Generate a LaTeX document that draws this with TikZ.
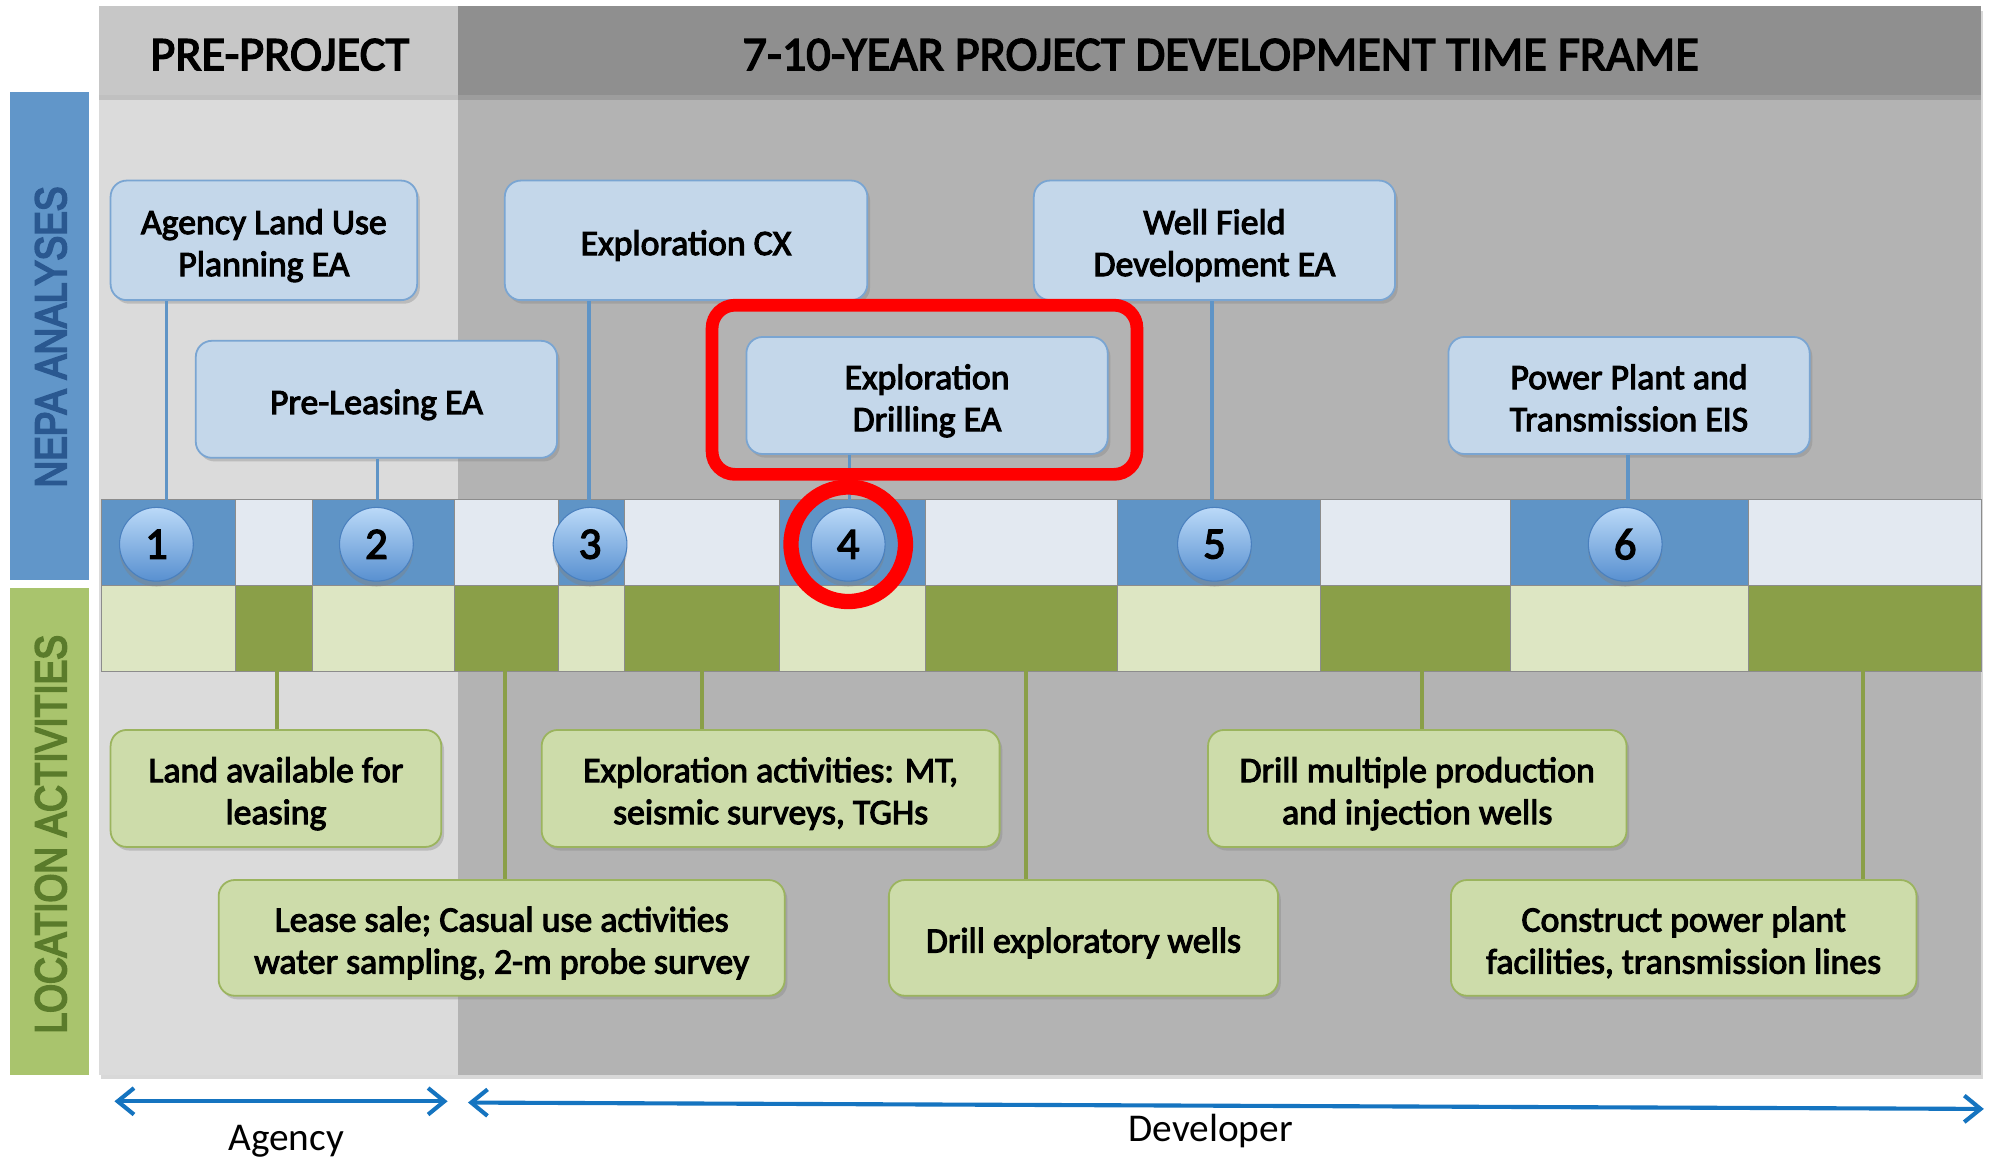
\documentclass[tikz,border=0pt]{standalone}
\usepackage{graphicx}
\usepackage{fontspec}
\setmainfont{Carlito}
\newfontfamily\boxfont{Carlito}[FakeBold=3]
\newfontfamily\sidefont{Liberation Sans}[FakeBold=5]
\usetikzlibrary{shadows,arrows.meta,calc}
\definecolor{hdrpre}{HTML}{C7C7C7}
\definecolor{hdrdev}{HTML}{8F8F8F}
\definecolor{bodypre}{HTML}{DBDBDB}
\definecolor{bodydev}{HTML}{B3B3B3}
\definecolor{nepabar}{HTML}{6196C9}
\definecolor{nepatext}{HTML}{2A5890}
\definecolor{locbar}{HTML}{A9C46D}
\definecolor{loctext}{HTML}{5A7B2B}
\definecolor{tlblue}{HTML}{5F94C6}
\definecolor{tllight}{HTML}{E3E9F1}
\definecolor{gdark}{HTML}{8A9F48}
\definecolor{glight}{HTML}{DDE6C3}
\definecolor{boxblue}{HTML}{C4D7EA}
\definecolor{boxblueb}{HTML}{7AA5D2}
\definecolor{boxgreen}{HTML}{CDDCAA}
\definecolor{boxgreenb}{HTML}{9BB45E}
\definecolor{arrowblue}{HTML}{1574C0}
\definecolor{balltop}{HTML}{BBDAF8}
\definecolor{ballbot}{HTML}{5890D0}
\definecolor{ballb}{HTML}{4A80BE}
\definecolor{hired}{HTML}{FF0000}
\newcommand{\bt}[1]{\raisebox{-3.5pt}[\height][\depth]{\begin{tabular}{@{}c@{}}#1\end{tabular}}}
\newcommand{\sidetext}[1]{\scalebox{0.845}[1]{#1}}
\tikzset{
  boxtext/.style={font=\boxfont\fontsize{20}{23.5}\selectfont, align=center, inner sep=0pt},
  nepabox/.style={boxtext, rectangle, rounded corners=9pt, fill=boxblue, draw=boxblueb, line width=1pt,
    drop shadow={opacity=0.35, shadow xshift=1.5pt, shadow yshift=-2pt}},
  locbox/.style={boxtext, rectangle, rounded corners=9pt, fill=boxgreen, draw=boxgreenb, line width=1pt,
    drop shadow={opacity=0.35, shadow xshift=1.5pt, shadow yshift=-2pt}},
  bconn/.style={draw=tlblue, line width=2pt},
  gconn/.style={draw=gdark, line width=2pt},
  numball/.style={circle, minimum size=1.45cm, inner sep=0pt, top color=balltop, bottom color=ballbot,
    draw=ballb, line width=0.6pt, font=\boxfont\fontsize{25}{30}\selectfont,
    drop shadow={opacity=0.4, shadow xshift=0pt, shadow yshift=-3pt}},
  sidelabel/.style={rotate=90, font=\sidefont\fontsize{24.5}{28}\selectfont},
  hdrtext/.style={font=\boxfont\fontsize{27}{32}\selectfont},
  barrow/.style={draw=arrowblue, line width=2.3pt, {Straight Barb[length=0.32cm, width=0.52cm, line width=2.3pt]}-{Straight Barb[length=0.32cm, width=0.52cm, line width=2.3pt]}},
  cell/.style={draw=black!45, line width=0.4pt}
}
\begin{document}
\begin{tikzpicture}[x=0.025cm,y=-0.025cm]
\useasboundingbox (0,0) rectangle (1568,910);
\fill[white] (0,0) rectangle (1568,910);
% body and header backgrounds
\fill[bodydev, drop shadow={opacity=0.3, shadow xshift=1pt, shadow yshift=-2.5pt}] (78,5) rectangle (1558,845);
\fill[bodypre] (78,75) rectangle (360,845);
\fill[hdrpre] (78,5) rectangle (360,75);
\fill[hdrdev] (360,5) rectangle (1558,75);
\fill[black, opacity=0.12] (78,75) rectangle (1558,79);
\node[hdrtext] (hpre) at (220,43) {PRE-PROJECT};
\node[hdrtext] (hdev) at (960,43) {7-10-YEAR PROJECT DEVELOPMENT TIME FRAME};
% side bars
\fill[nepabar] (8,72) rectangle (70,456);
\fill[locbar] (8,462) rectangle (70,845);
\node[sidelabel, text=nepatext] (nepa) at (40,265) {\sidetext{NEPA ANALYSES}};
\node[sidelabel, text=loctext] (loc) at (40,656) {\sidetext{LOCATION ACTIVITIES}};
% timeline cells
\foreach \a/\b/\ct/\cb in {80/185/tlblue/glight, 185/246/tllight/gdark, 246/357/tlblue/glight,
  357/439/tllight/gdark, 439/491/tlblue/glight, 491/613/tllight/gdark, 613/728/tlblue/glight,
  728/879/tllight/gdark, 879/1038/tlblue/glight, 1038/1188/tllight/gdark, 1188/1375/tlblue/glight,
  1375/1558/tllight/gdark}{
  \filldraw[cell, fill=\ct] (\a,393) rectangle (\b,460);
  \filldraw[cell, fill=\cb] (\a,460) rectangle (\b,528);
}
% NEPA boxes
\node[nepabox, minimum width=6.025cm, minimum height=2.35cm] (b1) at (207.5,189) {\bt{Agency Land Use\\Planning EA}};
\node[nepabox, minimum width=7.1cm, minimum height=2.3cm] (b2) at (296,314) {\bt{Pre-Leasing EA}};
\node[nepabox, minimum width=7.125cm, minimum height=2.35cm] (b3) at (539.5,189) {\bt{Exploration CX}};
\node[nepabox, minimum width=7.1cm, minimum height=2.3cm] (b4) at (729,311) {\bt{Exploration\\Drilling EA}};
\node[nepabox, minimum width=7.1cm, minimum height=2.35cm] (b5) at (955,189) {\bt{Well Field\\Development EA}};
\node[nepabox, minimum width=7.1cm, minimum height=2.3cm] (b6) at (1281,311) {\bt{Power Plant and\\Transmission EIS}};
% location boxes
\node[locbox, minimum width=6.5cm, minimum height=2.3cm] (g1) at (217,620) {\bt{Land available for\\leasing}};
\node[locbox, minimum width=11.125cm, minimum height=2.275cm] (g2) at (394.5,737.5) {\bt{Lease sale; Casual use activities\\water sampling, 2-m probe survey}};
\node[locbox, minimum width=9cm, minimum height=2.3cm] (g3) at (606,620) {\bt{Exploration activities: MT,\\seismic surveys, TGHs}};
\node[locbox, minimum width=7.65cm, minimum height=2.275cm] (g4) at (852,737.5) {\bt{Drill exploratory wells}};
\node[locbox, minimum width=8.225cm, minimum height=2.3cm] (g5) at (1114.5,620) {\bt{Drill multiple production\\and injection wells}};
\node[locbox, minimum width=9.15cm, minimum height=2.275cm] (g6) at (1324,737.5) {\bt{Construct power plant\\facilities, transmission lines}};
% connector anchors
\coordinate (t1) at (131,393); \coordinate (t2) at (297,393); \coordinate (t3) at (463,393);
\coordinate (t4) at (668,393); \coordinate (t5) at (953,393); \coordinate (t6) at (1280,393);
\coordinate (s1) at (218,528); \coordinate (s2) at (397,528); \coordinate (s3) at (552,528);
\coordinate (s4) at (807,528); \coordinate (s5) at (1118,528); \coordinate (s6) at (1465,528);
\draw[bconn] (b1.south -| t1) -- (t1);
\draw[bconn] (b2.south -| t2) -- (t2);
\draw[bconn] (b3.south -| t3) -- (t3);
\draw[bconn] (b4.south -| t4) -- (t4);
\draw[bconn] (b5.south -| t5) -- (t5);
\draw[bconn] (b6.south -| t6) -- (t6);
\draw[gconn] (s1) -- (s1 |- g1.north);
\draw[gconn] (s2) -- (s2 |- g2.north);
\draw[gconn] (s3) -- (s3 |- g3.north);
\draw[gconn] (s4) -- (s4 |- g4.north);
\draw[gconn] (s5) -- (s5 |- g5.north);
\draw[gconn] (s6) -- (s6 |- g6.north);
% numbered balls
\node[numball] (n1) at (123,428) {1};
\node[numball] (n2) at (296,428) {2};
\node[numball] (n3) at (464,428) {3};
\node[numball] (n4) at (667,428) {4};
\node[numball] (n5) at (955,428) {5};
\node[numball] (n6) at (1278,428) {6};
% red highlights
\node[draw=hired, line width=0.25cm, rounded corners=0.45cm, minimum width=8.35cm, minimum height=3.325cm, inner sep=0pt] (hl) at (727,306.5) {};
\node[circle, draw=hired, line width=0.3cm, minimum size=2.25cm, inner sep=0pt] (hc) at (667,428) {};
% bottom arrows
\coordinate (aL) at (90,866); \coordinate (aR) at (352,866);
\coordinate (dL) at (368,867); \coordinate (dR) at (1560,872);
\draw[barrow] (aL) -- (aR);
\draw[barrow] (dL) -- (dR);
\node[font=\fontsize{22}{26}\selectfont, anchor=base] (agency) at (225,905) {Agency};
\node[font=\fontsize{22}{26}\selectfont, anchor=base] (developer) at (952,898) {Developer};
\end{tikzpicture}
\end{document}
